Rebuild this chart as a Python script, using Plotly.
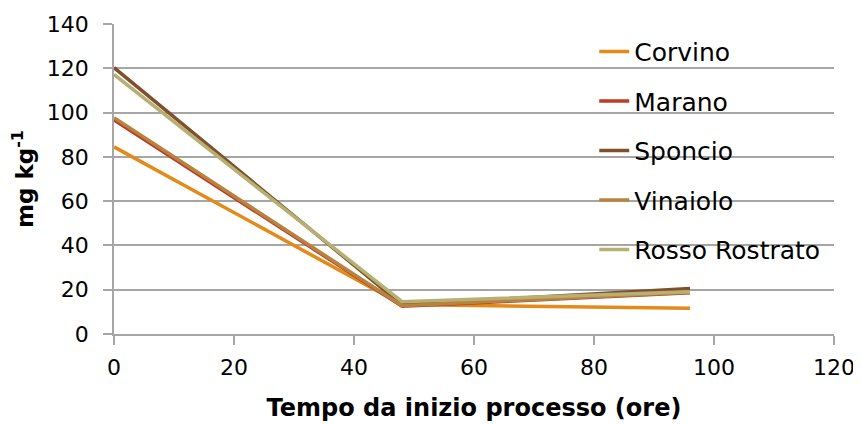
import plotly.graph_objects as go

hours = [0, 48, 96]
series_names = ["Corvino", "Marano", "Sponcio", "Vinaiolo", "Rosso Rostrato"]
corvino = [84.5, 13.3, 11.6]
marano = [96.7, 12.5, 18.6]
sponcio = [120.3, 13.2, 20.6]
vinaiolo = [97.7, 12.8, 18.9]
rosso_rostrato = [117.2, 14.6, 19.1]
colors = ["#E38A1A", "#BE3B26", "#80502C", "#B7843F", "#B7B073"]

values = [corvino, marano, sponcio, vinaiolo, rosso_rostrato]
x_ticks = [0, 20, 40, 60, 80, 100, 120]
y_ticks = [0, 20, 40, 60, 80, 100, 120, 140]

FONT = "DejaVu Sans"
GRID = "#A6A6A6"

fig = go.Figure()
for name, vals, col in zip(series_names, values, colors):
    fig.add_trace(go.Scatter(x=hours, y=vals, name=name, mode="lines",
                             line=dict(color=col, width=3.5), legendgroup=name))

fig.update_layout(
    width=853, height=416,
    margin=dict(l=106, r=27, t=16, b=90),
    paper_bgcolor="white", plot_bgcolor="white",
    font=dict(family=FONT, size=22, color="#000000"),
    showlegend=True,
    legend=dict(x=0.667, y=0.985, xanchor="left", yanchor="top",
                bgcolor="rgba(0,0,0,0)", borderwidth=0,
                font=dict(family=FONT, size=25, color="#000000"),
                tracegroupgap=14, itemwidth=30),
    xaxis=dict(range=[0, 120], tickvals=x_ticks, showgrid=False, zeroline=False,
               automargin=False,
               showline=True, linecolor=GRID, linewidth=1.5,
               ticks="outside", ticklen=9, tickcolor=GRID, tickwidth=1.5,
               ticklabelstandoff=4,
               title=dict(text="<b>Tempo da inizio processo (ore)</b>",
                          font=dict(family=FONT, size=24), standoff=20)),
    yaxis=dict(range=[0, 140], tickvals=y_ticks, showgrid=True, gridcolor=GRID,
               gridwidth=1.5, zeroline=False, automargin=False,
               showline=True, linecolor=GRID, linewidth=1.5,
               ticks="outside", ticklen=9, tickcolor=GRID, tickwidth=1.5,
               ticklabelstandoff=10,
               title=dict(text="<b>mg kg<sup>-1</sup></b>",
                          font=dict(family=FONT, size=23), standoff=10)),
)

fig.write_html("out.html")
